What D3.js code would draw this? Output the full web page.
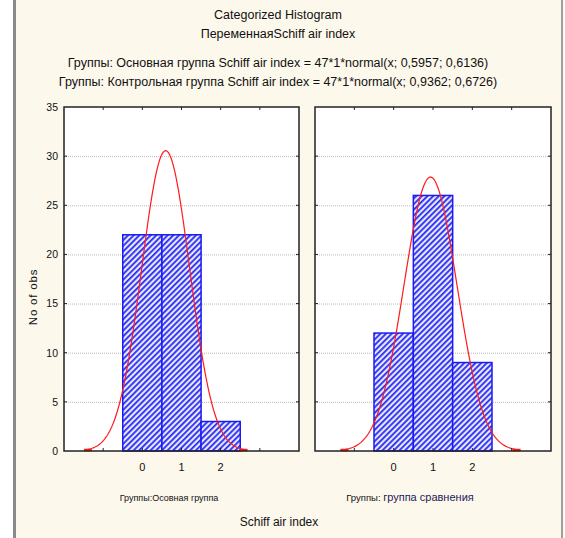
<!DOCTYPE html>
<html>
<head>
<meta charset="utf-8">
<script src="https://cdn.jsdelivr.net/npm/d3@7"></script>
<style>
  html, body { margin: 0; padding: 0; background: #ffffff; }
  svg { display: block; }
  text { font-family: "Liberation Sans Narrow", "Arial Narrow", "Liberation Sans", sans-serif; fill: #111; }
</style>
</head>
<body>
<svg id="chart" width="565" height="538"></svg>
<script>
// Histogram bins (centres) and counts for each group
const binCenters = [0, 1, 2];
const mainCounts = [22, 22, 3];
const controlCounts = [12, 26, 9];

// Fitted normal parameters stated in the headings: n * binWidth * normal(x; mean; sd)
const fitN = 47;
const mainFit = { mean: 0.5957, sd: 0.6136 };
const controlFit = { mean: 0.9362, sd: 0.6726 };

const yTicks = [0, 5, 10, 15, 20, 25, 30, 35];
const xTickLabels = [0, 1, 2];
const xTickMarks = [-1, 0, 1, 2, 3];

const titleLines = [
  "Categorized Histogram",
  "ПеременнаяSchiff air index",
  "Группы: Основная группа  Schiff air index = 47*1*normal(x; 0,5957; 0,6136)",
  "Группы: Контрольная группа Schiff air index = 47*1*normal(x; 0,9362; 0,6726)"
];

const svg = d3.select("#chart");

// window background and side rules
svg.append("rect").attr("x", 13).attr("y", 0).attr("width", 551).attr("height", 538).attr("fill", "#fdf8ec");
svg.append("rect").attr("x", 13).attr("y", 0).attr("width", 3).attr("height", 538).attr("fill", "#8a8a8a");
svg.append("rect").attr("x", 561).attr("y", 0).attr("width", 2).attr("height", 538).attr("fill", "#a0a0a0");

// diagonal hatch for the bars
const defs = svg.append("defs");
const pat = defs.append("pattern")
  .attr("id", "hatch").attr("patternUnits", "userSpaceOnUse")
  .attr("width", 4).attr("height", 4)
  .attr("patternTransform", "rotate(45)");
pat.append("rect").attr("width", 4).attr("height", 4).attr("fill", "#e6e8ff");
pat.append("rect").attr("x", 0).attr("width", 1.8).attr("height", 4).attr("fill", "#2b2bf0");

// headings
const titleY = [19, 38, 67, 86];
titleLines.forEach((t, i) => {
  svg.append("text").attr("x", 278).attr("y", titleY[i])
    .attr("text-anchor", "middle").attr("font-size", 12.5).text(t);
});

const y = d3.scaleLinear().domain([0, 35]).range([451, 107]);

const panels = [
  { x0: 64, x1: 299, counts: mainCounts, fit: mainFit },
  { x0: 315, x1: 551, counts: controlCounts, fit: controlFit }
];

panels.forEach(p => {
  const x = d3.scaleLinear().domain([-2, 4]).range([p.x0, p.x1]);
  const g = svg.append("g");

  g.append("rect").attr("x", p.x0).attr("y", 107)
    .attr("width", p.x1 - p.x0).attr("height", 451 - 107).attr("fill", "#ffffff");

  // dotted grid
  g.selectAll("line.grid").data(yTicks.filter(v => v > 0 && v < 35)).join("line")
    .attr("x1", p.x0).attr("x2", p.x1)
    .attr("y1", d => y(d) + 0.5).attr("y2", d => y(d) + 0.5)
    .attr("stroke", "#b8b8b8").attr("stroke-width", 1).attr("stroke-dasharray", "1,1");

  // bars
  g.selectAll("rect.bar").data(binCenters).join("rect")
    .attr("x", (d) => x(d - 0.5))
    .attr("y", (d, i) => y(p.counts[i]))
    .attr("width", d => x(d + 0.5) - x(d - 0.5))
    .attr("height", (d, i) => y(0) - y(p.counts[i]))
    .attr("fill", "url(#hatch)")
    .attr("stroke", "#1a1af5").attr("stroke-width", 1.5);

  // fitted normal curve
  const { mean, sd } = p.fit;
  const lo = mean - 3.4 * sd, hi = mean + 3.4 * sd;
  const pts = d3.range(0, 201).map(k => {
    const xv = lo + (hi - lo) * k / 200;
    const yv = fitN * Math.exp(-0.5 * ((xv - mean) / sd) ** 2) / (sd * Math.sqrt(2 * Math.PI));
    return [xv, yv];
  });
  const line = d3.line().x(d => x(d[0])).y(d => y(d[1])).curve(d3.curveLinear);
  g.append("path").attr("d", line(pts)).attr("fill", "none")
    .attr("stroke", "#ff1a1a").attr("stroke-width", 1.2);
  // heavier tails where the curve meets the baseline
  [[lo, lo + 0.2], [hi - 0.2, hi]].forEach(s => {
    g.append("line").attr("x1", x(s[0])).attr("x2", x(s[1]))
      .attr("y1", y(0) - 1).attr("y2", y(0) - 1)
      .attr("stroke", "#ff1a1a").attr("stroke-width", 2.5);
  });

  // frame
  g.append("rect").attr("x", p.x0).attr("y", 107)
    .attr("width", p.x1 - p.x0).attr("height", 451 - 107)
    .attr("fill", "none").attr("stroke", "#222").attr("stroke-width", 1.5);

  // inward ticks
  const tl = 3;
  yTicks.filter(v => v > 0 && v < 35).forEach(v => {
    g.append("line").attr("x1", p.x0).attr("x2", p.x0 + tl).attr("y1", y(v)).attr("y2", y(v)).attr("stroke", "#222");
    g.append("line").attr("x1", p.x1).attr("x2", p.x1 - tl).attr("y1", y(v)).attr("y2", y(v)).attr("stroke", "#222");
  });
  xTickMarks.forEach(v => {
    g.append("line").attr("x1", x(v)).attr("x2", x(v)).attr("y1", 107).attr("y2", 107 + tl).attr("stroke", "#222");
    g.append("line").attr("x1", x(v)).attr("x2", x(v)).attr("y1", 451).attr("y2", 451 - tl).attr("stroke", "#222");
  });

  // x tick labels
  g.selectAll("text.xl").data(xTickLabels).join("text")
    .attr("x", d => x(d)).attr("y", 471)
    .attr("text-anchor", "middle").attr("font-size", 11).text(d => d);
});

// y axis labels on the left panel
const yAxis = d3.axisLeft(y).tickValues(yTicks).tickSize(0).tickPadding(0);
const ya = svg.append("g").attr("transform", "translate(58,0)").call(yAxis);
ya.select(".domain").remove();
ya.selectAll("text").attr("font-size", 10.5).attr("fill", "#111")
  .attr("font-family", "Liberation Sans Narrow, Arial Narrow, sans-serif");

svg.append("text").attr("transform", "translate(37,297) rotate(-90)")
  .attr("text-anchor", "middle").attr("font-size", 11.5)
  .attr("letter-spacing", 0.8).attr("font-family", "Liberation Sans, Arial, sans-serif")
  .text("No of obs");

// group captions and axis title
svg.append("text").attr("x", 169).attr("y", 501).attr("text-anchor", "middle")
  .attr("font-size", 9).text("Группы:Осовная группа");
const cap2 = svg.append("text").attr("x", 410).attr("y", 501).attr("text-anchor", "middle").attr("font-size", 9.5);
cap2.append("tspan").text("Группы:   ");
cap2.append("tspan").attr("fill", "#1a1a5a").attr("font-size", 11)
  .attr("font-family", "Liberation Sans, Arial, sans-serif").text("группа сравнения");

svg.append("text").attr("x", 279).attr("y", 526).attr("text-anchor", "middle")
  .attr("font-size", 12).text("Schiff air index");
</script>
</body>
</html>
